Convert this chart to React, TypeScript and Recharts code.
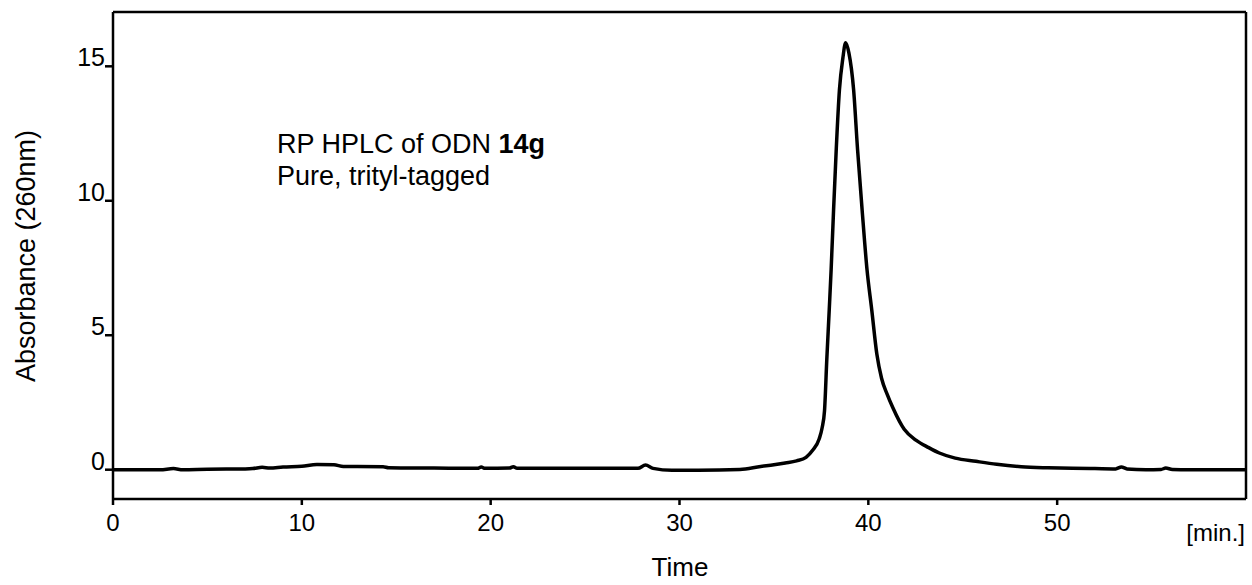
import { LineChart, Line, XAxis, YAxis, ReferenceLine } from "recharts";

// retention time (min) and absorbance at 260 nm
const time = [
  0, 2.5, 3.2, 3.7, 5, 7, 7.4, 7.9, 8.3, 9, 10, 10.8, 11.7, 12.2, 14.3, 14.6, 17,
  19.3, 19.5, 19.7, 21, 21.2, 21.4, 24, 27.8, 28.2, 28.6, 29.6, 31, 33.2, 34.3,
  35, 35.6, 36.2, 36.7, 37.05, 37.4, 37.55, 37.68, 37.8, 37.93, 38.03, 38.16,
  38.3, 38.47, 38.65, 38.8, 38.97, 39.22, 39.43, 39.67, 39.93, 40.18, 40.45,
  40.7, 41.0, 41.3, 41.9, 42.52, 43.2, 43.76, 44.6, 45.7, 46.8, 48.1, 49.5,
  50.8, 52, 53.1, 53.4, 53.7, 54.7, 55.5, 55.75, 56.1, 57, 60,
];
const absorbance = [
  0, 0, 0.04, 0, 0.02, 0.03, 0.04, 0.09, 0.06, 0.1, 0.13, 0.19, 0.18, 0.12,
  0.11, 0.07, 0.06, 0.05, 0.1, 0.05, 0.06, 0.11, 0.05, 0.05, 0.05, 0.17, 0.05,
  -0.02, -0.02, 0.01, 0.12, 0.18, 0.25, 0.33, 0.46, 0.72, 1.15, 1.55, 2.2, 4.09,
  5.95, 7.44, 9.67, 11.9, 14.13, 15.3, 15.88, 15.5, 14.13, 11.9, 9.67, 7.44,
  5.95, 4.3, 3.4, 2.8, 2.3, 1.5, 1.1, 0.82, 0.62, 0.43, 0.31, 0.2, 0.11, 0.07,
  0.05, 0.04, 0.03, 0.1, 0.03, 0, 0.01, 0.06, 0.01, 0, 0,
];
const xTicks = [0, 10, 20, 30, 40, 50];
const yTicks = [0, 5, 10, 15];
const xRange = [0, 60];
const yRange = [-1.09, 17.02];

const data = time.map((t, i) => ({ t, a: absorbance[i] }));

const FONT = '"Liberation Sans", Arial, sans-serif';
const AXIS = { stroke: "#000", strokeWidth: 2.5 };

function XTick({ x, y, payload }: any) {
  return (
    <text x={x} y={y + 26} textAnchor="middle" fontSize={24} fill="#000" fontFamily={FONT}>
      {payload.value}
    </text>
  );
}

function YTick({ x, y, payload }: any) {
  return (
    <text x={x} y={y} textAnchor="end" fontSize={25} fill="#000" fontFamily={FONT}>
      {payload.value}
    </text>
  );
}

export default function App() {
  return (
    <div style={{ position: "absolute", left: 0, top: 0, width: 1252, height: 585, background: "#fff" }}>
      <LineChart width={1252} height={585} data={data} margin={{ top: 12, right: 6, bottom: 0, left: 0 }}>
        <XAxis
          dataKey="t"
          type="number"
          domain={xRange}
          ticks={xTicks}
          tick={<XTick />}
          tickSize={6}
          tickMargin={0}
          height={86}
          axisLine={AXIS}
          tickLine={AXIS}
        />
        <YAxis
          domain={yRange}
          ticks={yTicks}
          allowDataOverflow
          tick={<YTick />}
          tickSize={8}
          tickMargin={0}
          width={113}
          axisLine={AXIS}
          tickLine={AXIS}
        />
        {/* frame: top and right edges */}
        <ReferenceLine y={yRange[1]} stroke="#000" strokeWidth={2.5} />
        <ReferenceLine x={xRange[1]} stroke="#000" strokeWidth={2.5} />
        <Line
          dataKey="a"
          type="monotone"
          stroke="#000"
          strokeWidth={3.5}
          dot={false}
          isAnimationActive={false}
        />
        <text x={277} y={153} fontSize={27} fontFamily={FONT} fill="#000">
          RP HPLC of ODN <tspan fontWeight="bold">14g</tspan>
        </text>
        <text x={277} y={185} fontSize={27} fontFamily={FONT} fill="#000">
          Pure, trityl-tagged
        </text>
        <text x={680} y={576} textAnchor="middle" fontSize={26} fontFamily={FONT} fill="#000">
          Time
        </text>
        <text x={1245} y={541} textAnchor="end" fontSize={24} fontFamily={FONT} fill="#000">
          [min.]
        </text>
        <text
          x={35}
          y={256}
          textAnchor="middle"
          fontSize={27}
          fontFamily={FONT}
          fill="#000"
          transform="rotate(-90 35 256)"
        >
          Absorbance (260nm)
        </text>
      </LineChart>
    </div>
  );
}
